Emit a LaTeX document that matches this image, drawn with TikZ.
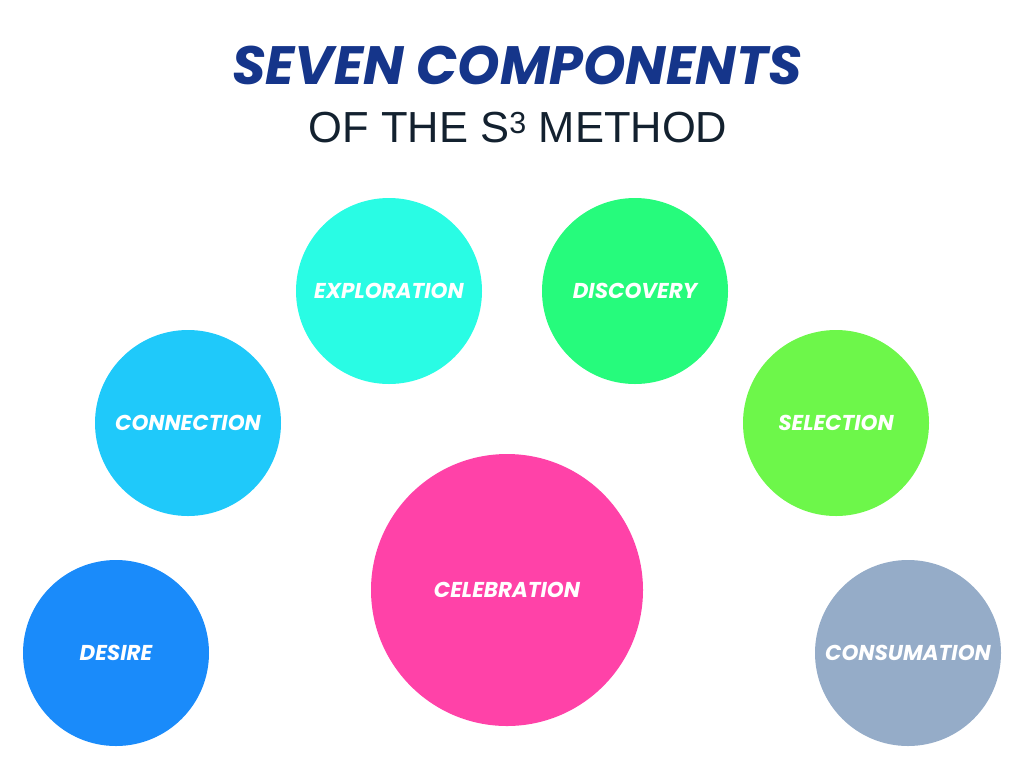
\documentclass[tikz,border=0pt]{standalone}
\usepackage{fontspec}
\setmainfont{Liberation Sans}
\newfontfamily\poppins{Poppins}
\usetikzlibrary{positioning}

\definecolor{titleblue}{HTML}{15358A}
\definecolor{subdark}{HTML}{13212F}
\definecolor{explcol}{HTML}{29FCE4}
\definecolor{disccol}{HTML}{26FB7C}
\definecolor{conncol}{HTML}{1FC9FA}
\definecolor{selecol}{HTML}{6DF74A}
\definecolor{desicol}{HTML}{1A8BFA}
\definecolor{consucol}{HTML}{95ACC8}
\definecolor{celecol}{HTML}{FF42A8}

\begin{document}
\begin{tikzpicture}[x=1pt,y=-1pt,
  comp/.style={circle, fill=#1, minimum size=186pt, inner sep=0pt, text=white,
    font=\poppins\bfseries\itshape\fontsize{21.5}{21.5}\selectfont}]

\useasboundingbox (0,0) rectangle (1024,772);

\node (title) at (517,65) [text=titleblue, font=\poppins\bfseries\itshape\fontsize{54}{54}\selectfont]
{SEVEN COMPONENTS};

\node (subtitle) at (518,128) [text=subdark, font=\fontsize{43.5}{43.5}\selectfont]
{OF THE S\textsuperscript{3} METHOD};

\node (exploration) at (389,291) [comp=explcol] {EXPLORATION};
\node (discovery) at (635,291) [comp=disccol] {DISCOVERY};
\node (connection) at (188,423) [comp=conncol] {CONNECTION};
\node (selection) at (836,423) [comp=selecol] {SELECTION};
\node (desire) at (116,653) [comp=desicol] {DESIRE};
\node (consumation) at (908,653) [comp=consucol] {CONSUMATION};
\node (celebration) at (507,590) [comp=celecol, minimum size=272pt] {CELEBRATION};

\end{tikzpicture}
\end{document}
